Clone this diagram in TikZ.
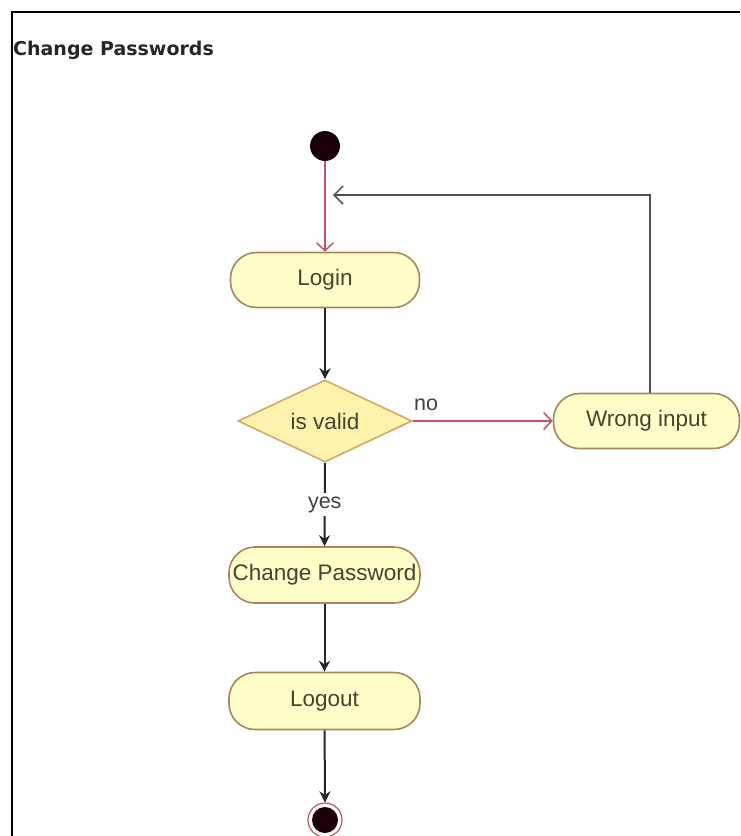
\documentclass[tikz,border=0pt]{standalone}
\usepackage{fontspec}
\setmainfont{Liberation Sans}
\newfontfamily\titlefont{DejaVu Sans}
\usetikzlibrary{shapes.geometric,arrows.meta}
\definecolor{actfill}{RGB}{255,253,200}
\definecolor{actline}{RGB}{172,132,92}
\definecolor{decfill}{RGB}{255,242,172}
\definecolor{decline}{RGB}{214,168,100}
\definecolor{flowred}{RGB}{192,84,100}
\definecolor{labeltext}{RGB}{68,68,48}
\definecolor{backline}{RGB}{80,80,80}
\definecolor{statefill}{RGB}{26,0,6}
\tikzset{
  activity/.style={draw=actline, fill=actfill, line width=1.6pt, rectangle,
    rounded corners=26pt, minimum width=190pt, minimum height=56pt,
    inner sep=0pt, text=labeltext, font=\fontsize{22.5}{26}\selectfont},
  decision/.style={draw=decline, fill=decfill, line width=1.6pt, diamond,
    aspect=2.12, minimum width=174pt, minimum height=82pt, inner sep=0pt,
    text=labeltext, font=\fontsize{22.5}{26}\selectfont},
  flow/.style={line width=2pt, black!85, -{Stealth[length=11pt,width=11pt]}},
  redflow/.style={line width=1.5pt, flowred, -{Straight Barb[length=8pt,width=17pt,line width=1.5pt]}},
  backflow/.style={line width=1.8pt, backline, -{Straight Barb[length=9pt,width=18pt,line width=1.5pt]}},
  guard/.style={font=\fontsize{21.5}{25}\selectfont, text=black!75, inner sep=1pt}
}
\begin{document}
\begin{tikzpicture}[x=1pt, y=-1pt]
  \useasboundingbox (0,0) rectangle (740,836);
  % frame
  \draw[line width=2.4pt] (12,836) -- (12,12) -- (740,12);
  \node[anchor=base west, inner sep=0pt, font=\titlefont\bfseries\fontsize{19}{22}\selectfont, text=black!85]
    (title) at (13,55) {Change Passwords};

  % start and end states
  \node[circle, fill=statefill, draw=black, line width=0.8pt,
        minimum size=29pt, inner sep=0pt] (start) at (325,146) {};
  \node[circle, draw=flowred, line width=1.2pt, fill=white, minimum size=34pt, inner sep=0pt] (stop) at (325,820) {};
  \fill[statefill] (stop.center) circle (13pt);

  % activities
  \node[activity, minimum width=189pt, minimum height=55pt] (login) at (325,280) {Login};
  \node[decision] (valid) at (325,421) {is valid};
  \node[activity, minimum width=186pt, minimum height=55pt] (wrong) at (646.5,421) {Wrong input};
  \node[activity, minimum width=191pt] (change) at (324.5,575) {Change Password};
  \node[activity, minimum width=191pt, minimum height=57pt] (logout) at (324.5,701) {Logout};

  % connectors
  \coordinate (backend) at (333,195);
  \draw[redflow] (start) -- (login);
  \draw[redflow] (valid.east) -- (wrong.west);
  \node[guard] (no) at (426,405) {no};
  \draw[flow] (login) -- (valid);
  \draw[flow] (valid.south) -- node[guard, fill=white, inner ysep=3pt] (yes) {yes} (change.north);
  \draw[flow] (change) -- (logout);
  \draw[flow] (logout) -- (stop);
  \draw[backflow] ([xshift=3.5pt]wrong.north) |- (backend);
\end{tikzpicture}
\end{document}
